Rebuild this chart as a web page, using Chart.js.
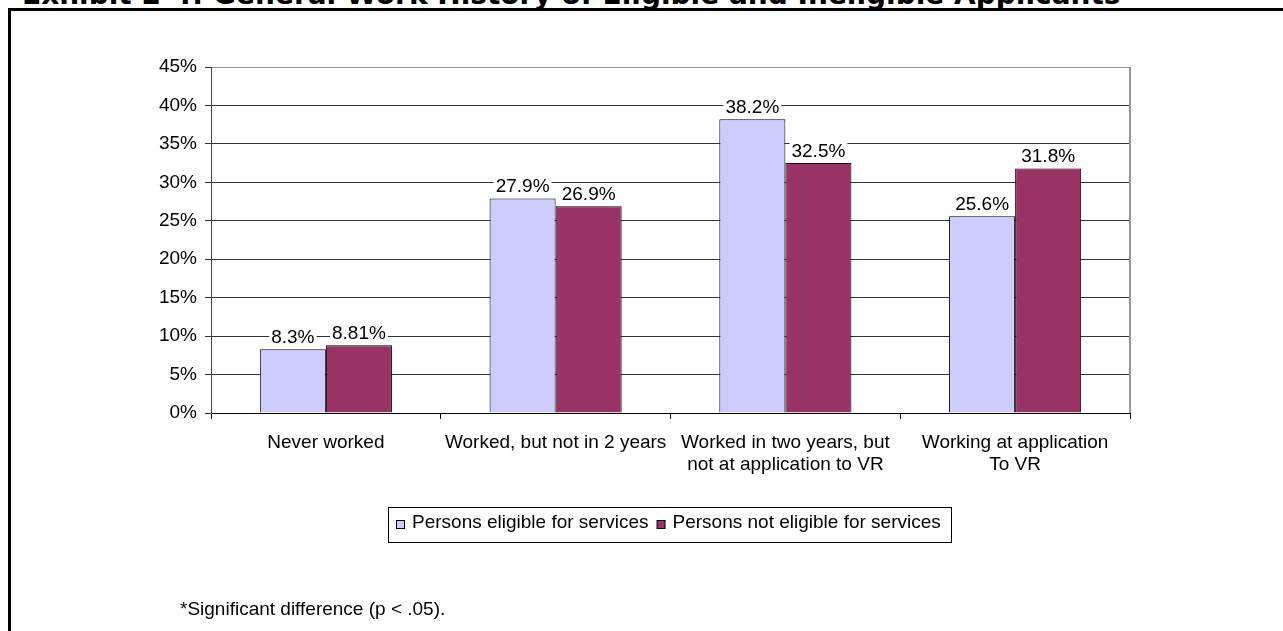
<!DOCTYPE html>
<html>
<head>
<meta charset="utf-8">
<script src="https://cdn.jsdelivr.net/npm/chart.js@4.4.1/dist/chart.umd.min.js"></script>
<style>
    body { margin: 0; background: #fff; width: 1283px; height: 631px; overflow: hidden; position: relative; font-family: "Liberation Sans", Arial, sans-serif; }
    #frame { position: absolute; left: 8px; top: 8px; width: 1300px; height: 650px; border-left: 3px solid #000; border-top: 3px solid #000; }
    #title { position: absolute; left: 22px; top: -19px; font: bold 28px "DejaVu Sans", sans-serif; line-height: 28px; white-space: nowrap; color: #000; }
    #note { position: absolute; left: 180px; top: 599px; font-size: 19px; line-height: 19px; color: #000; white-space: nowrap; }
    #wrap { position: absolute; left: 0; top: 0; }
</style>
</head>
<body>
<div id="title">Exhibit 2-4: General Work History of Eligible and Ineligible Applicants</div>
<div id="frame"></div>
<div id="wrap"><canvas id="work-history-chart" width="1283" height="631"></canvas></div>
<div id="note">*Significant difference (p &lt; .05).</div>

<script>
// categories and series (percent)
const categories = [
    "Never worked",
    "Worked, but not in 2 years",
    ["Worked in two years, but", "not at application to VR"],
    ["Working at application", "To VR"]
];
const eligibleValues = [8.3, 27.9, 38.2, 25.6];
const notEligibleValues = [8.81, 26.9, 32.5, 31.8];
const seriesNames = ["Persons eligible for services", "Persons not eligible for services"];

const FONT = '"Liberation Sans", Arial, sans-serif';

// gray right edge of the plot area
const plotEdge = {
    id: 'plotEdge',
    beforeDatasetsDraw(chart) {
        const { ctx, chartArea } = chart;
        ctx.save();
        ctx.strokeStyle = '#999';
        ctx.lineWidth = 2;
        ctx.beginPath();
        ctx.moveTo(chartArea.right, chartArea.top);
        ctx.lineTo(chartArea.right, chartArea.bottom);
        ctx.stroke();
        ctx.restore();
    }
};

// value labels above bars, with white background
const valueLabels = {
    id: 'valueLabels',
    afterDatasetsDraw(chart) {
        const ctx = chart.ctx;
        ctx.save();
        ctx.font = '19px ' + FONT;
        ctx.textAlign = 'center';
        ctx.textBaseline = 'alphabetic';
        chart.data.datasets.forEach((ds, i) => {
            chart.getDatasetMeta(i).data.forEach((bar, j) => {
                const txt = ds.data[j] + '%';
                const w = ctx.measureText(txt).width;
                const y = bar.y - 6;
                ctx.fillStyle = '#fff';
                ctx.fillRect(bar.x - w / 2 - 2, y - 15, w + 4, 17);
                ctx.fillStyle = '#000';
                ctx.fillText(txt, bar.x, y);
            });
        });
        ctx.restore();
    }
};

// legend in a box below the axis
const boxedLegend = {
    id: 'boxedLegend',
    afterDraw(chart) {
        const ctx = chart.ctx;
        ctx.save();
        ctx.font = '19px ' + FONT;
        const items = chart.data.datasets.map(ds => ({
            text: ds.label,
            color: ds.backgroundColor,
            w: ctx.measureText(ds.label).width
        }));
        const total = items.reduce((s, it) => s + 16 + it.w, 0) + 8 * (items.length - 1) + 18;
        let x = Math.round(669 - total / 2);
        const top = 507, h = 35;
        ctx.fillStyle = '#fff';
        ctx.fillRect(x, top, total, h);
        ctx.strokeStyle = '#000';
        ctx.lineWidth = 1;
        ctx.strokeRect(x + 0.5, top + 0.5, Math.round(total), h);
        x += 8;
        ctx.textAlign = 'left';
        ctx.textBaseline = 'alphabetic';
        items.forEach(it => {
            ctx.fillStyle = it.color;
            ctx.fillRect(x + 0.5, 520.5, 8, 8);
            ctx.strokeRect(x + 0.5, 520.5, 8, 8);
            ctx.fillStyle = '#000';
            ctx.fillText(it.text, x + 16, 528);
            x += 16 + it.w + 8;
        });
        ctx.restore();
    }
};

const ctx = document.getElementById('work-history-chart').getContext('2d');

new Chart(ctx, {
    type: 'bar',
    data: {
        labels: categories,
        datasets: [{
            label: seriesNames[0],
            data: eligibleValues,
            backgroundColor: '#CCCCFF',
            borderColor: '#000',
            borderWidth: 1,
        }, {
            label: seriesNames[1],
            data: notEligibleValues,
            backgroundColor: '#993366',
            borderColor: '#000',
            borderWidth: 1,
        }]
    },
    options: {
        responsive: false,
        animation: false,
        devicePixelRatio: 1,
        layout: {
            padding: { left: 0, right: 153, top: 67, bottom: 0 }
        },
        datasets: {
            bar: {
                categoryPercentage: 0.575,
                barPercentage: 1,
            }
        },
        scales: {
            x: {
                afterFit: (scale) => { scale.height = 218; },
                grid: {
                    drawOnChartArea: false,
                    tickLength: 6,
                    color: '#000',
                    offset: true,
                },
                border: { color: '#000', width: 1 },
                ticks: {
                    color: '#000',
                    padding: 13,
                    maxRotation: 0,
                    autoSkip: false,
                    font: { family: FONT, size: 19, lineHeight: 1.15 }
                }
            },
            y: {
                min: 0,
                max: 45,
                afterFit: (scale) => { scale.width = 211; },
                grid: {
                    color: (c) => (c.tick && c.tick.value === 45) ? '#999' : '#333',
                    tickColor: '#333',
                    tickLength: 6,
                },
                border: { color: '#444', width: 1 },
                ticks: {
                    stepSize: 5,
                    color: '#000',
                    padding: 8,
                    font: { family: FONT, size: 19 },
                    callback: (v) => v + '%'
                }
            }
        },
        plugins: {
            legend: { display: false },
            tooltip: { enabled: false }
        }
    },
    plugins: [plotEdge, valueLabels, boxedLegend]
});
</script>
</body>
</html>
